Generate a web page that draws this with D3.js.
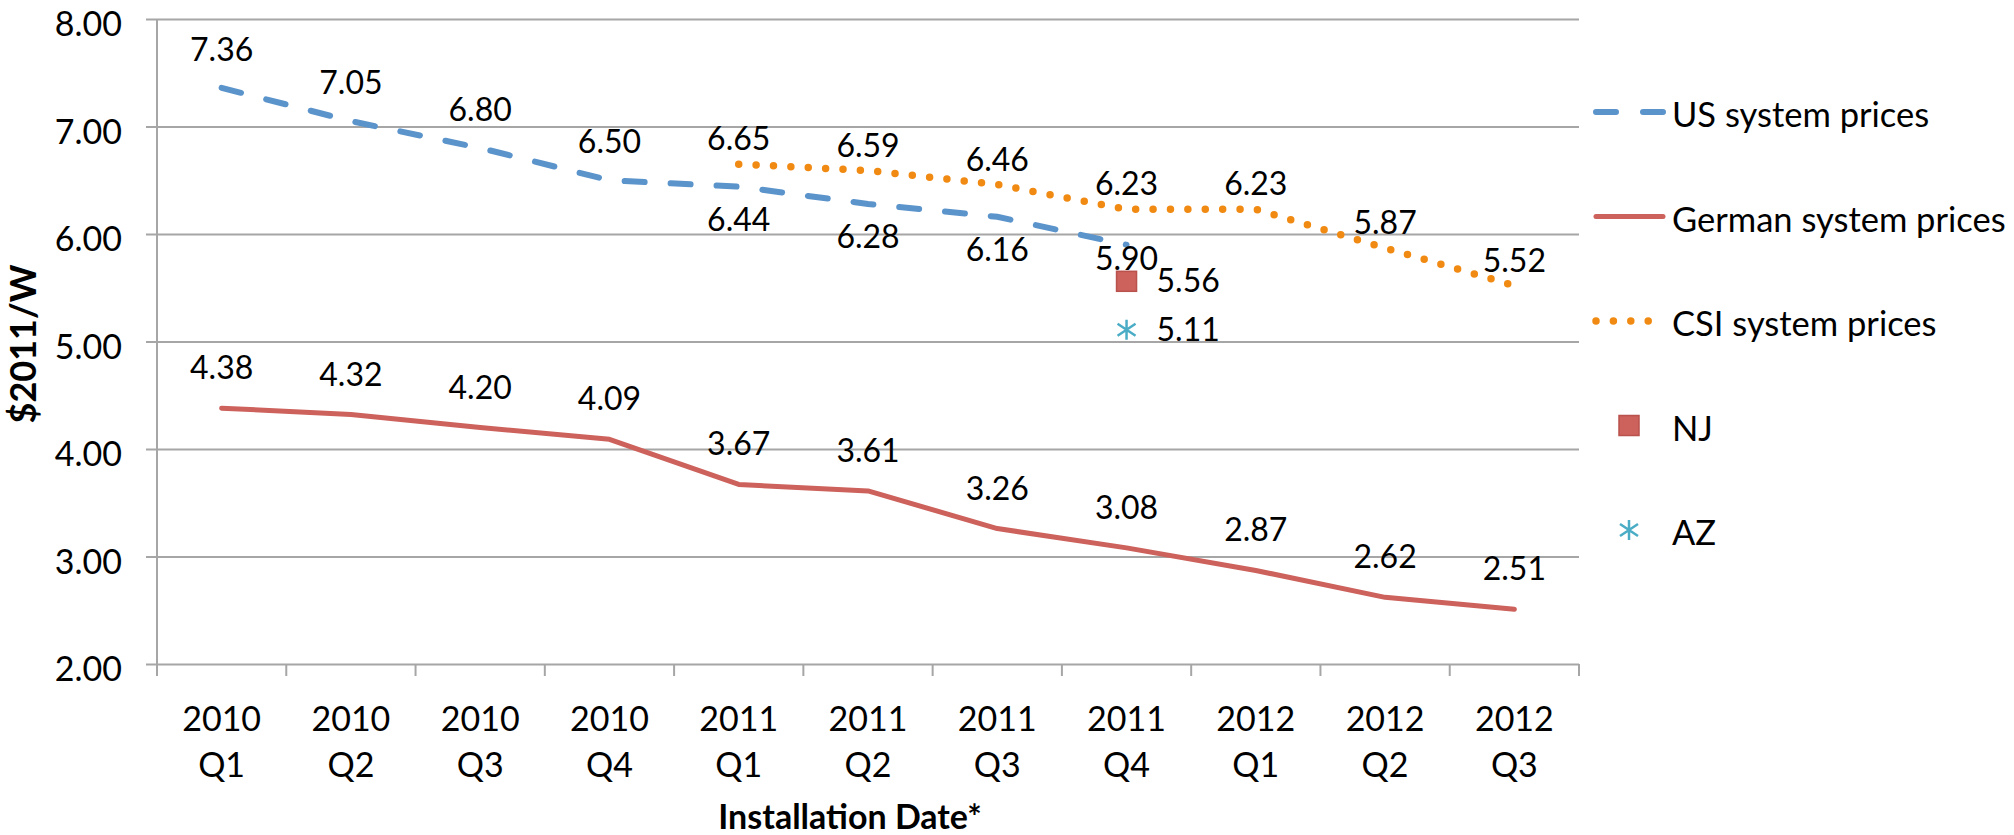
<!DOCTYPE html>
<html>
<head>
<meta charset="utf-8">
<script src="https://cdn.jsdelivr.net/npm/d3@7"></script>
<style>
    body { margin: 0; background: #fff; }
    text { font-family: Lato, "Open Sans", sans-serif; fill: #000; }
</style>
</head>
<body>
<div id="chart-area"></div>
<script>
// values
var quarters = ["2010 Q1", "2010 Q2", "2010 Q3", "2010 Q4", "2011 Q1", "2011 Q2",
    "2011 Q3", "2011 Q4", "2012 Q1", "2012 Q2", "2012 Q3"];
var usPrices = [7.36, 7.05, 6.80, 6.50, 6.44, 6.28, 6.16, 5.90, null, null, null];
var germanPrices = [4.38, 4.32, 4.20, 4.09, 3.67, 3.61, 3.26, 3.08, 2.87, 2.62, 2.51];
var csiPrices = [null, null, null, null, 6.65, 6.59, 6.46, 6.23, 6.23, 5.87, 5.52];
var njPrices = [null, null, null, null, null, null, null, 5.56, null, null, null];
var azPrices = [null, null, null, null, null, null, null, 5.11, null, null, null];
var yTicks = [2, 3, 4, 5, 6, 7, 8];
var legendNames = ["US system prices", "German system prices", "CSI system prices", "NJ", "AZ"];

var blue = "#5b93cb", red = "#cd615b", orange = "#f08a12", aqua = "#4bacc6", grid = "#a6a6a6";

PriceVis = function(_parentElement){
    this.parentElement = _parentElement;
    this.initVis();
}

PriceVis.prototype.initVis = function() {
    var vis = this;

    vis.margin = {top: 19, right: 435, bottom: 171, left: 157};
    vis.width = 2014 - vis.margin.left - vis.margin.right;
    vis.height = 835 - vis.margin.top - vis.margin.bottom;

    vis.svg = d3.select("#" + vis.parentElement).append("svg")
        .attr("width", 2014)
        .attr("height", 835);

    vis.g = vis.svg.append("g")
        .attr("transform", "translate(" + vis.margin.left + "," + vis.margin.top + ")");

    vis.x = d3.scaleBand().domain(quarters).range([0, vis.width]);
    vis.y = d3.scaleLinear().domain([2, 8]).range([vis.height, 0]);

    vis.cx = function(i) { return vis.x(quarters[i]) + vis.x.bandwidth() / 2; };

    vis.drawAxes();
    vis.drawSeries();
    vis.drawLegend();
}

PriceVis.prototype.drawAxes = function() {
    var vis = this;

    // horizontal gridlines + left ticks
    var yAxis = d3.axisLeft(vis.y)
        .tickValues(yTicks)
        .tickSize(-vis.width)
        .tickFormat("");
    var ya = vis.g.append("g").call(yAxis);
    ya.select(".domain").remove();
    ya.selectAll(".tick line")
        .attr("x1", -11)
        .attr("stroke", grid)
        .attr("stroke-width", 2);

    vis.g.selectAll(".ylab")
        .data(yTicks)
        .enter().append("text")
        .attr("class", "ylab")
        .attr("x", -35)
        .attr("y", d => vis.y(d) + 17)
        .attr("text-anchor", "end")
        .style("font-size", "34px")
        .text(d => d3.format(".2f")(d));

    // y axis line
    vis.g.append("line")
        .attr("x1", 0).attr("x2", 0)
        .attr("y1", 0).attr("y2", vis.height + 12)
        .attr("stroke", grid)
        .attr("stroke-width", 2);

    // category ticks on the band edges
    var edges = quarters.map(q => vis.x(q)).concat([vis.width]);
    vis.g.selectAll(".xtick")
        .data(edges)
        .enter().append("line")
        .attr("x1", d => d).attr("x2", d => d)
        .attr("y1", vis.height).attr("y2", vis.height + 12)
        .attr("stroke", grid)
        .attr("stroke-width", 2);

    var xl = vis.g.selectAll(".xlab")
        .data(quarters)
        .enter().append("text")
        .attr("class", "xlab")
        .attr("text-anchor", "middle")
        .style("font-size", "34px");
    xl.append("tspan")
        .attr("x", d => vis.x(d) + vis.x.bandwidth() / 2)
        .attr("y", vis.height + 67)
        .text(d => d.split(" ")[0]);
    xl.append("tspan")
        .attr("x", d => vis.x(d) + vis.x.bandwidth() / 2)
        .attr("y", vis.height + 113)
        .text(d => d.split(" ")[1]);

    vis.svg.append("text")
        .attr("x", 850)
        .attr("y", 829)
        .attr("text-anchor", "middle")
        .style("font-size", "34px")
        .style("font-weight", "bold")
        .text("Installation Date*");

    vis.svg.append("text")
        .attr("transform", "translate(36,344) rotate(-90)")
        .attr("text-anchor", "middle")
        .style("font-size", "36px")
        .style("font-weight", "bold")
        .text("$2011/W");
}

PriceVis.prototype.drawSeries = function() {
    var vis = this;

    var line = d3.line()
        .defined(d => d != null)
        .x((d, i) => vis.cx(i))
        .y(d => vis.y(d));

    vis.g.append("path")
        .datum(germanPrices)
        .attr("d", line)
        .attr("fill", "none")
        .attr("stroke", red)
        .attr("stroke-width", 5)
        .attr("stroke-linejoin", "round")
        .attr("stroke-linecap", "round");

    vis.g.append("path")
        .datum(usPrices)
        .attr("d", line)
        .attr("fill", "none")
        .attr("stroke", blue)
        .attr("stroke-width", 6)
        .attr("stroke-dasharray", "20 26")
        .attr("stroke-linecap", "round");

    vis.g.append("path")
        .datum(csiPrices)
        .attr("d", line)
        .attr("fill", "none")
        .attr("stroke", orange)
        .attr("stroke-width", 7.5)
        .attr("stroke-dasharray", "0 17.4")
        .attr("stroke-linecap", "round");

    // markers
    vis.g.selectAll(".nj")
        .data(njPrices.map((v, i) => ({v: v, i: i})).filter(d => d.v != null))
        .enter().append("rect")
        .attr("x", d => vis.cx(d.i) - 10)
        .attr("y", d => vis.y(d.v) - 10)
        .attr("width", 20).attr("height", 20)
        .attr("fill", red)
        .attr("stroke", "#b9524c")
        .attr("stroke-width", 1.5);

    vis.g.selectAll(".az")
        .data(azPrices.map((v, i) => ({v: v, i: i})).filter(d => d.v != null))
        .enter().append("path")
        .attr("transform", d => "translate(" + vis.cx(d.i) + "," + vis.y(d.v) + ")")
        .attr("d", "M0,-10V10M-9,-6L9,6M-9,6L9,-6")
        .attr("fill", "none")
        .attr("stroke", aqua)
        .attr("stroke-width", 2.5);

    // data labels
    var fmt = d3.format(".2f");
    function labels(arr, dyFn, anchor, dx) {
        vis.g.selectAll(null)
            .data(arr.map((v, i) => ({v: v, i: i})).filter(d => d.v != null))
            .enter().append("text")
            .attr("x", d => vis.cx(d.i) + dx)
            .attr("y", d => vis.y(d.v) + dyFn(d))
            .attr("text-anchor", anchor)
            .style("font-size", "32px")
            .text(d => fmt(d.v));
    }
    // US labels sit below where the CSI line overlaps, the end label tucks closer
    var usLast = d3.max(usPrices.map((v, i) => v == null ? -1 : i));
    labels(usPrices, d => csiPrices[d.i] == null ? -27 : (d.i == usLast ? 25 : 44), "middle", 0);
    labels(germanPrices, d => -29, "middle", 0);
    labels(csiPrices, d => -14, "middle", 0);
    labels(njPrices, d => 11, "start", 30);
    labels(azPrices, d => 11, "start", 30);
}

PriceVis.prototype.drawLegend = function() {
    var vis = this;

    var lg = vis.svg.append("g").attr("transform", "translate(1593,112)");
    var step = 104.5;

    lg.selectAll("text")
        .data(legendNames)
        .enter().append("text")
        .attr("x", 79)
        .attr("y", (d, i) => i * step + 15)
        .style("font-size", "34.5px")
        .text(d => d);

    lg.append("line")
        .attr("x1", 3).attr("x2", 70).attr("y1", 0).attr("y2", 0)
        .attr("stroke", blue).attr("stroke-width", 6)
        .attr("stroke-dasharray", "20 27").attr("stroke-linecap", "round");
    lg.append("line")
        .attr("x1", 3).attr("x2", 70).attr("y1", step).attr("y2", step)
        .attr("stroke", red).attr("stroke-width", 5).attr("stroke-linecap", "round");
    lg.append("line")
        .attr("x1", 3).attr("x2", 56).attr("y1", step * 2).attr("y2", step * 2)
        .attr("stroke", orange).attr("stroke-width", 7.5)
        .attr("stroke-dasharray", "0 17.4").attr("stroke-linecap", "round");
    lg.append("rect")
        .attr("x", 26).attr("y", step * 3 - 10).attr("width", 20).attr("height", 20)
        .attr("fill", red).attr("stroke", "#b9524c").attr("stroke-width", 1.5);
    lg.append("path")
        .attr("transform", "translate(36," + (step * 4) + ")")
        .attr("d", "M0,-10V10M-9,-6L9,6M-9,6L9,-6")
        .attr("fill", "none").attr("stroke", aqua).attr("stroke-width", 2.5);
}

new PriceVis("chart-area");
</script>
</body>
</html>
